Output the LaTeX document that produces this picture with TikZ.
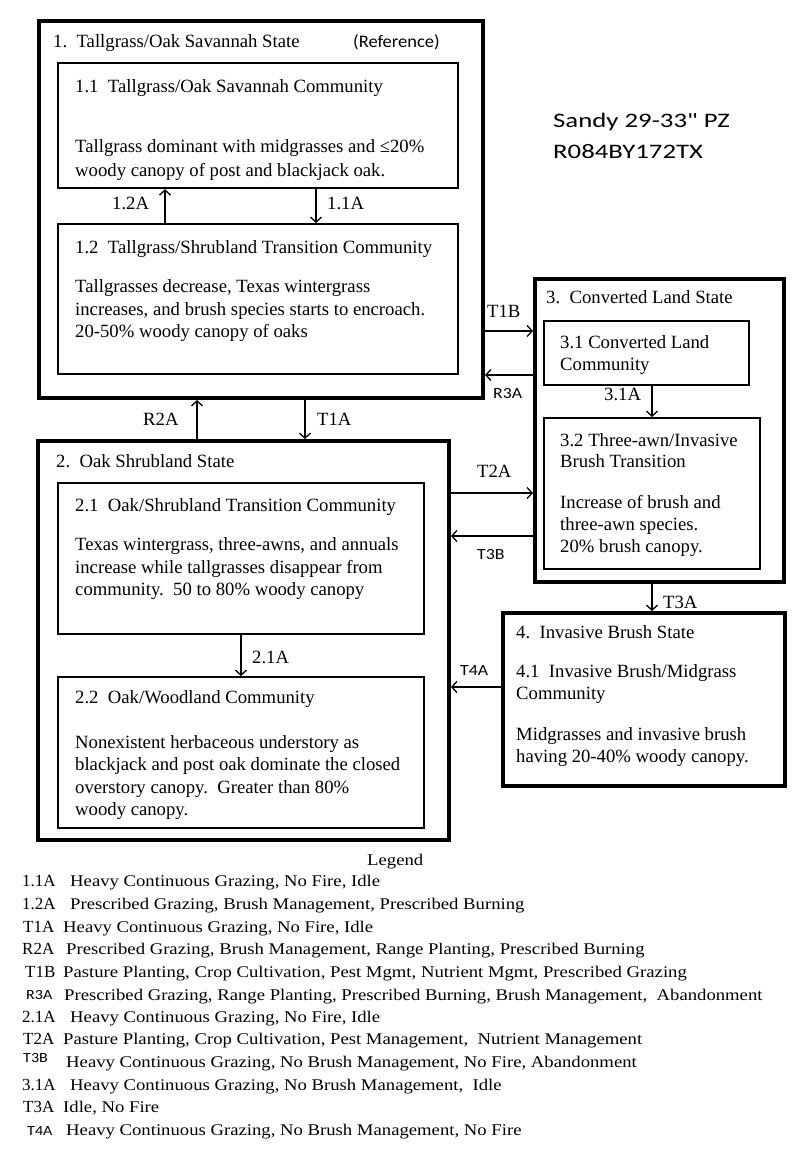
\documentclass[tikz,border=0pt]{standalone}
\usepackage{fontspec}
\setmainfont{Liberation Serif}
\newfontfamily\sansr[FakeStretch=1.05]{Carlito}
\newfontfamily\sansw[FakeStretch=1.3]{Carlito}
\newfontfamily\sansl[FakeStretch=1.15]{Carlito}
\newfontfamily\legf[FakeStretch=1.147]{Liberation Serif}
\usetikzlibrary{arrows.meta}
\begin{document}
\begin{tikzpicture}[x=1pt,y=-1pt,
  statebox/.style={draw, line width=4pt, inner sep=0pt, outer sep=2pt, anchor=north west},
  commbox/.style={draw, line width=2.2pt, inner sep=0pt, outer sep=1.1pt, anchor=north west},
  txt/.style={anchor=base west, inner sep=0pt, font=\fontsize{18.7}{22.5}\selectfont},
  stxt/.style={anchor=base west, inner sep=0pt, font=\fontsize{15.5}{18}\sansl},
  legcode/.style={anchor=base west, inner sep=0pt, font=\fontsize{17}{20}\selectfont},
  legtxt/.style={anchor=base west, inner sep=0pt, font=\fontsize{16.3}{20}\legf},
  legscode/.style={anchor=base west, inner sep=0pt, font=\fontsize{14}{16}\sansl},
  arr/.style={line width=1.3pt, -{Straight Barb[length=5pt,width=11pt,line width=1.3pt]}}
]
\useasboundingbox[fill=white] (0,0) rectangle (800,1152);

% boxes
\node[statebox, minimum width=444pt, minimum height=377pt] (s1) at (37,19) {};
\node[commbox, minimum width=400pt, minimum height=125pt] (c11) at (57,62) {};
\node[commbox, minimum width=400pt, minimum height=150pt] (c12) at (57,223) {};
\node[statebox, minimum width=411pt, minimum height=399pt] (s2) at (36,439) {};
\node[commbox, minimum width=366pt, minimum height=151pt] (c21) at (57,482) {};
\node[commbox, minimum width=366pt, minimum height=151pt] (c22) at (57,676) {};
\node[statebox, minimum width=249pt, minimum height=303pt] (s3) at (533,277) {};
\node[commbox, minimum width=205pt, minimum height=64pt] (c31) at (543,320) {};
\node[commbox, minimum width=216pt, minimum height=151pt] (c32) at (543,417) {};
\node[statebox, minimum width=282pt, minimum height=173pt] (s4) at (501,611) {};

% column / row coordinates
\coordinate (x12A) at (165,0);
\coordinate (x11A) at (316,0);
\coordinate (xR2A) at (197,0);
\coordinate (xT1A) at (305,0);
\coordinate (x21A) at (241,0);
\coordinate (x31A) at (652,0);
\coordinate (yT1B) at (0,331);
\coordinate (yR3A) at (0,375);
\coordinate (yT2A) at (0,493);
\coordinate (yT3B) at (0,536);
\coordinate (yT4A) at (0,687);

% connectors
\draw[arr] (c12.north -| x12A) -- (c11.south -| x12A);
\draw[arr] (c11.south -| x11A) -- (c12.north -| x11A);
\draw[arr] (s2.north -| xR2A) -- (s1.south -| xR2A);
\draw[arr] (s1.south -| xT1A) -- (s2.north -| xT1A);
\draw[arr] (c21.south -| x21A) -- (c22.north -| x21A);
\draw[arr] (c31.south -| x31A) -- (c32.north -| x31A);
\draw[arr] (s3.south -| x31A) -- (s4.north -| x31A);
\draw[arr] (s1.east |- yT1B) -- (s3.west |- yT1B);
\draw[arr] (s3.west |- yR3A) -- (s1.east |- yR3A);
\draw[arr] (s2.east |- yT2A) -- (s3.west |- yT2A);
\draw[arr] (s3.west |- yT3B) -- (s2.east |- yT3B);
\draw[arr] (s4.west |- yT4A) -- (s2.east |- yT4A);

% state 1
\node[txt] (t1) at (53,47) {1.\ \ Tallgrass/Oak Savannah State};
\node[anchor=base west, inner sep=0pt, font=\fontsize{17.6}{20}\sansr] (tref) at (353,47) {(Reference)};
\node[txt] (t11h) at (75,92) {1.1\ \ Tallgrass/Oak Savannah Community};
\node[txt] (t11a) at (75,152) {Tallgrass dominant with midgrasses and ≤20\%};
\node[txt] (t11b) at (75,176) {woody canopy of post and blackjack oak.};
\node[txt] (t12h) at (75,253) {1.2\ \ Tallgrass/Shrubland Transition Community};
\node[txt] (t12a) at (75,292) {Tallgrasses decrease, Texas wintergrass};
\node[txt] (t12b) at (75,315) {increases, and brush species starts to encroach.};
\node[txt] (t12c) at (75,337) {20-50\% woody canopy of oaks};

% state 2
\node[txt] (t2) at (56,467) {2.\ \ Oak Shrubland State};
\node[txt] (t21h) at (75,511) {2.1\ \ Oak/Shrubland Transition Community};
\node[txt] (t21a) at (75,550) {Texas wintergrass, three-awns, and annuals};
\node[txt] (t21b) at (75,573) {increase while tallgrasses disappear from};
\node[txt] (t21c) at (75,595) {community.\ \ 50 to 80\% woody canopy};
\node[txt] (t22h) at (75,703) {2.2\ \ Oak/Woodland Community};
\node[txt] (t22a) at (75,748) {Nonexistent herbaceous understory as};
\node[txt] (t22b) at (75,770) {blackjack and post oak dominate the closed};
\node[txt] (t22c) at (75,793) {overstory canopy.\ \ Greater than 80\%};
\node[txt] (t22d) at (75,815) {woody canopy.};

% state 3
\node[txt] (t3) at (546,303) {3.\ \ Converted Land State};
\node[txt] (t31a) at (560,348) {3.1 Converted Land};
\node[txt] (t31b) at (560,370) {Community};
\node[txt] (t32a) at (560,446) {3.2 Three-awn/Invasive};
\node[txt] (t32b) at (560,467) {Brush Transition};
\node[txt] (t32c) at (560,508) {Increase of brush and};
\node[txt] (t32d) at (560,530) {three-awn species.};
\node[txt] (t32e) at (560,552) {20\% brush canopy.};

% state 4
\node[txt] (t4) at (516,638) {4.\ \ Invasive Brush State};
\node[txt] (t41a) at (516,677) {4.1\ \ Invasive Brush/Midgrass};
\node[txt] (t41b) at (516,699) {Community};
\node[txt] (t41c) at (516,740) {Midgrasses and invasive brush};
\node[txt] (t41d) at (516,762) {having 20-40\% woody canopy.};

% site label
\node[anchor=base west, inner sep=0pt, font=\fontsize{20.6}{24}\sansw] (site1) at (553,127) {Sandy 29-33" PZ};
\node[anchor=base west, inner sep=0pt, font=\fontsize{20.6}{24}\sansw] (site2) at (553,158) {R084BY172TX};

% connector labels
\node[txt] (l12A) at (112,209) {1.2A};
\node[txt] (l11A) at (327,209) {1.1A};
\node[txt] (lR2A) at (143,425) {R2A};
\node[txt] (lT1A) at (317,425) {T1A};
\node[txt] (l21A) at (252,663) {2.1A};
\node[txt] (lT1B) at (487,317) {T1B};
\node[stxt] (lR3A) at (493,398) {R3A};
\node[txt] (l31A) at (604,400) {3.1A};
\node[txt] (lT2A) at (477,477) {T2A};
\node[stxt] (lT3B) at (477,559) {T3B};
\node[txt] (lT3A) at (663,608) {T3A};
\node[stxt] (lT4A) at (460,675) {T4A};

% legend
\node[legtxt] (leg) at (367,865) {Legend};
\node[legcode] (g1c) at (22,886) {1.1A};  \node[legtxt] (g1t) at (70,886) {Heavy Continuous Grazing, No Fire, Idle};
\node[legcode] (g2c) at (22,909) {1.2A};  \node[legtxt] (g2t) at (70,909) {Prescribed Grazing, Brush Management, Prescribed Burning};
\node[legcode] (g3c) at (23,932) {T1A};   \node[legtxt] (g3t) at (63,932) {Heavy Continuous Grazing, No Fire, Idle};
\node[legcode] (g4c) at (22,954) {R2A};   \node[legtxt] (g4t) at (66,954) {Prescribed Grazing, Brush Management, Range Planting, Prescribed Burning};
\node[legcode] (g5c) at (25,977) {T1B};   \node[legtxt] (g5t) at (63,977) {Pasture Planting, Crop Cultivation, Pest Mgmt, Nutrient Mgmt, Prescribed Grazing};
\node[legscode] (g6c) at (26,999) {R3A};  \node[legtxt] (g6t) at (64,1000) {Prescribed Grazing, Range Planting, Prescribed Burning, Brush Management,\ \ Abandonment};
\node[legcode] (g7c) at (22,1022) {2.1A}; \node[legtxt] (g7t) at (70,1022) {Heavy Continuous Grazing, No Fire, Idle};
\node[legcode] (g8c) at (23,1044) {T2A};  \node[legtxt] (g8t) at (63,1044) {Pasture Planting, Crop Cultivation, Pest Management,\ \ Nutrient Management};
\node[legscode] (g9c) at (23,1062) {T3B};  \node[legtxt] (g9t) at (66,1067) {Heavy Continuous Grazing, No Brush Management, No Fire, Abandonment};
\node[legcode] (g10c) at (22,1090) {3.1A}; \node[legtxt] (g10t) at (70,1090) {Heavy Continuous Grazing, No Brush Management,\ \ Idle};
\node[legcode] (g11c) at (23,1112) {T3A}; \node[legtxt] (g11t) at (63,1112) {Idle, No Fire};
\node[legscode] (g12c) at (27,1135) {T4A}; \node[legtxt] (g12t) at (66,1135) {Heavy Continuous Grazing, No Brush Management, No Fire};
\end{tikzpicture}
\end{document}
